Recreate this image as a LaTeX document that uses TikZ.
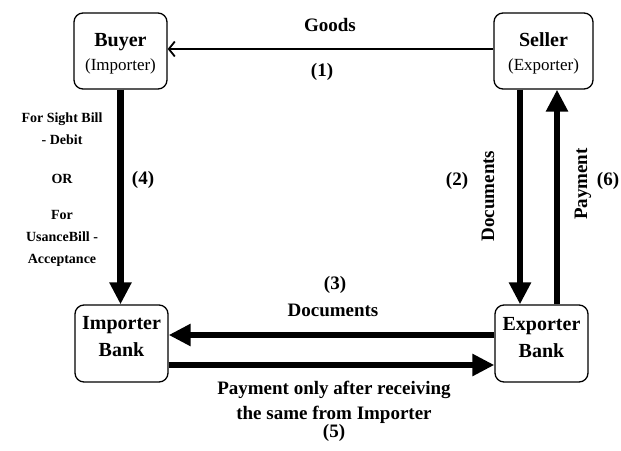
\documentclass[tikz,border=0pt]{standalone}
\usepackage{fontspec}
\setmainfont{Liberation Serif}
\usetikzlibrary{arrows.meta,calc}

\tikzset{
  x=1pt, y=-1pt,
  party/.style={draw, line width=1.3pt, rounded corners=9pt, inner sep=0pt},
  partytext/.style={align=center, inner sep=0pt, font=\bfseries\fontsize{20}{23}\selectfont},
  flow/.style={line width=6.5pt, -{Triangle[length=22pt,width=21pt]}},
  goods/.style={line width=1.8pt, -{Straight Barb[length=6pt,width=15pt,line width=1.8pt]}},
  lbl/.style={font=\bfseries\fontsize{19}{22}\selectfont, align=center, inner sep=0pt},
  side/.style={font=\bfseries\fontsize{14}{17}\selectfont, align=center, inner sep=0pt},
}

\begin{document}
\begin{tikzpicture}
\useasboundingbox (0,0) rectangle (621,450);

% parties: frames
\node[party, minimum width=93pt, minimum height=76pt] (buyer) at (120.5,51) {};
\node[party, minimum width=99pt, minimum height=76pt] (seller) at (543.5,51) {};
\node[party, minimum width=93pt, minimum height=77pt] (impbank) at (121.5,343.5) {};
\node[party, minimum width=93pt, minimum height=77pt] (expbank) at (541.5,343.5) {};

% parties: names
\node[partytext] (buyertxt) at (120.5,53.5)
  {Buyer\\[1pt]{\mdseries\fontsize{17}{20}\selectfont(Importer)}};
\node[partytext] (sellertxt) at (543.5,53.5)
  {Seller\\[1pt]{\mdseries\fontsize{17}{20}\selectfont(Exporter)}};
\node[partytext] (impbanktxt) at (121.5,337)  {Importer\\[4pt]Bank};
\node[partytext] (expbanktxt) at (541.5,337.5) {Exporter\\[4pt]Bank};

% (1) goods
\draw[goods] ([yshift=2pt]seller.west) -- ([yshift=2pt]buyer.east);
\node[lbl] (goodslbl) at (330,25) {Goods};
\node[lbl] (n1) at (322,72) {(1)};

% (2) documents to exporter bank, (6) payment back to seller
\coordinate (docs2) at ([xshift=-23.5pt]seller.south);
\draw[flow] (docs2) -- (docs2 |- expbank.north);
\coordinate (pay6) at ([xshift=15.5pt]expbank.north);
\draw[flow] (pay6) -- (pay6 |- seller.south);
\node[lbl, rotate=90] (docslbl) at (488,196) {Documents};
\node[lbl] (n2) at (457,181) {(2)};
\node[lbl, rotate=90] (paylbl) at (583,184) {Payment};
\node[lbl] (n6) at (608,181) {(6)};

% (3) documents to importer bank
\draw[flow] ([yshift=8.5pt]expbank.west) -- ([yshift=8.5pt]impbank.east);
\node[lbl] (n3) at (335,285) {(3)};
\node[lbl] (docs3lbl) at (333,310) {Documents};

% (5) payment to exporter bank
\draw[flow] ([yshift=-21.5pt]impbank.east) -- ([yshift=-21.5pt]expbank.west);
\node[lbl] (pay5lbl) at (334,411.5) {Payment only after receiving\\[3pt]the same from Importer\\[-4pt](5)};

% (4) buyer to importer bank
\draw[flow] (buyer.south) -- (buyer.south |- impbank.north);
\node[lbl] (n4) at (143,180) {(4)};
\node[side] (sight) at (62,129) {For Sight Bill\\[5pt]- Debit};
\node[side] (or) at (62,179) {OR};
\node[side] (usance) at (62,238) {For\\[5pt]UsanceBill -\\[5pt]Acceptance};
\end{tikzpicture}
\end{document}
